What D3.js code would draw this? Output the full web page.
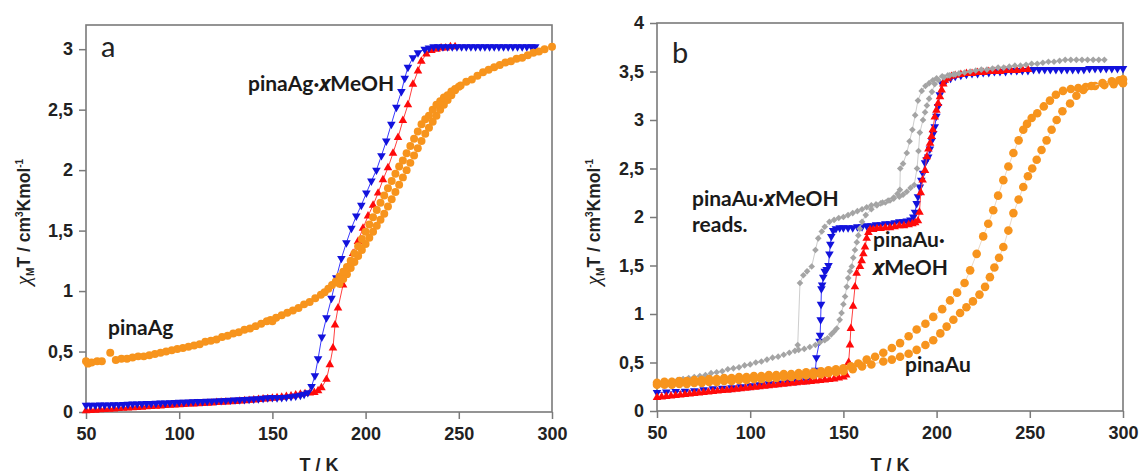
<!DOCTYPE html>
<html>
<head>
<meta charset="utf-8">
<script src="https://cdn.jsdelivr.net/npm/d3@7"></script>
<style>
body{margin:0;background:#fff;}
svg{display:block;font-family:"Liberation Sans",Arial,sans-serif;}
</style>
</head>
<body>
<svg id="chart" width="1141" height="475"></svg>
<script>
// axis ticks
const xTicks = [50,100,150,200,250,300];
const yTicksA = [0,0.5,1,1.5,2,2.5,3];
const yTicksB = [0,0.5,1,1.5,2,2.5,3,3.5,4];

// panel a : pinaAg.xMeOH cooling (blue), heating (red)
const agSolvCool = [[50,0.055],[52.5,0.055],[55,0.056],[57.5,0.057],[60,0.058],[62.5,0.059],[65,0.06],[67.5,0.061],[70,0.062],[72.5,0.064],[75,0.066],[77.5,0.067],[80,0.068],[82.5,0.07],[85,0.071],[87.5,0.072],[90,0.074],[92.5,0.075],[95,0.077],[97.5,0.078],[100,0.08],[102.5,0.081],[105,0.083],[107.5,0.084],[110,0.086],[112.5,0.087],[115,0.089],[117.5,0.09],[120,0.092],[122.5,0.094],[125,0.096],[127.5,0.098],[130,0.1],[132.5,0.102],[135,0.104],[137.5,0.106],[140,0.108],[142.5,0.11],[145,0.113],[147.5,0.118],[150,0.12],[152.5,0.118],[155,0.12],[157.5,0.123],[160,0.127],[162.5,0.132],[165,0.138],[167,0.146],[169,0.16],[171,0.21],[172.8,0.3],[174.5,0.44],[176.5,0.62],[179,0.78],[181.7,0.94],[184.3,1.11],[187,1.27],[189.7,1.4],[192.4,1.52],[195,1.62],[197.7,1.71],[200.4,1.81],[203.1,1.91],[205.8,2.0],[208.5,2.12],[211.1,2.24],[213.8,2.38],[216.5,2.52],[219.2,2.65],[221,2.76],[222.7,2.85],[225.4,2.93],[228.1,2.97],[231.7,3.0],[234,3.01],[236.5,3.02],[239,3.02],[241.5,3.02],[244,3.02],[246.5,3.02],[249,3.02],[251.5,3.02],[254,3.02],[256.5,3.02],[259,3.02],[261.5,3.02],[264,3.02],[266.5,3.02],[269,3.02],[271.5,3.02],[274,3.02],[276.5,3.02],[279,3.02],[281.5,3.02],[284,3.02],[286.5,3.02],[289,3.02],[291,3.02]];
const agSolvHeat = [[50,0.01],[52.5,0.012],[55,0.015],[57.5,0.018],[60,0.02],[62.5,0.022],[65,0.025],[67.5,0.028],[70,0.03],[72.5,0.033],[75,0.036],[77.5,0.038],[80,0.04],[82.5,0.043],[85,0.046],[87.5,0.048],[90,0.05],[92.5,0.053],[95,0.056],[97.5,0.058],[100,0.06],[102.5,0.062],[105,0.065],[107.5,0.067],[110,0.068],[112.5,0.07],[115,0.072],[117.5,0.075],[120,0.078],[122.5,0.08],[125,0.082],[127.5,0.084],[130,0.086],[132.5,0.09],[135,0.093],[137.5,0.096],[140,0.1],[142.5,0.103],[145,0.107],[147.5,0.11],[150,0.114],[152.5,0.118],[155,0.122],[157.5,0.128],[160,0.133],[162.5,0.14],[165,0.147],[167.5,0.152],[170,0.156],[172.5,0.162],[174.5,0.175],[176.3,0.2],[179,0.27],[180.8,0.39],[182.5,0.53],[183.6,0.72],[185.2,0.86],[187.9,1.05],[190.6,1.2],[193.3,1.31],[195.9,1.41],[198.6,1.52],[201.3,1.62],[204,1.71],[206.7,1.81],[209.3,1.92],[212,2.02],[214.7,2.14],[217.4,2.27],[220,2.41],[222.7,2.54],[225.4,2.71],[228.1,2.82],[229.9,2.9],[232.6,2.96],[235.3,2.99],[238,3.0],[240.5,3.01],[243,3.01],[245.5,3.02],[248,3.02]];
// panel a : pinaAg, two runs
const agDryA = [[50,0.42],[51,0.4],[53,0.41],[56,0.42],[58.5,0.42],[63,0.49],[66,0.43],[69,0.44],[72,0.44],[75,0.45],[78,0.46],[81,0.46],[84,0.47],[87,0.48],[90,0.49],[93,0.5],[96,0.51],[99,0.52],[102,0.53],[105,0.54],[108,0.55],[111,0.56],[114,0.58],[117,0.59],[120,0.6],[123,0.62],[126,0.63],[129,0.65],[132,0.66],[135,0.68],[138,0.69],[141,0.71],[144,0.73],[147,0.75],[149,0.76],[150,0.75],[152,0.78],[155,0.8],[158,0.82],[161,0.84],[164,0.86],[167,0.89],[170,0.91],[173,0.94],[176,0.97],[178,0.99],[180,1.02],[182,1.05],[184,1.08],[186,1.12],[188,1.16],[190,1.2],[192,1.25],[194,1.31],[196,1.37],[198,1.43],[200,1.49],[202,1.55],[204,1.61],[206,1.67],[208,1.73],[210,1.79],[212,1.85],[214,1.91],[216,1.97],[218,2.03],[220,2.08],[222,2.14],[224,2.2],[226,2.26],[228,2.32],[230,2.38],[232,2.42],[234,2.45],[236,2.5],[238,2.54],[240,2.57],[242,2.6],[244,2.62],[246,2.65],[248,2.67],[251,2.7],[254,2.73],[257,2.75],[260,2.78],[263,2.81],[266,2.83],[269,2.85],[272,2.87],[275,2.89],[278,2.9],[281,2.92],[284,2.93],[287,2.95],[290,2.97],[293,2.98],[296,3.0],[300,3.02]];
const agDryB = [[186,1.06],[188,1.1],[190,1.14],[192,1.19],[194,1.24],[196,1.29],[198,1.34],[200,1.39],[202,1.44],[204,1.49],[206,1.54],[208,1.59],[210,1.64],[212,1.7],[214,1.76],[216,1.82],[218,1.88],[220,1.94],[222,2.0],[224,2.06],[226,2.12],[228,2.18],[230,2.24],[232,2.3],[234,2.35],[236,2.4],[238,2.45],[240,2.5],[242,2.54],[244,2.58],[246,2.62],[248,2.66],[250,2.69]];

// panel b : pinaAu.xMeOH cooling (blue), heating (red)
const auSolvCool = [[300,3.53],[297,3.53],[294,3.53],[291,3.53],[288,3.53],[285,3.53],[282,3.53],[279,3.52],[276,3.52],[273,3.52],[270,3.52],[267,3.52],[264,3.52],[261,3.52],[258,3.52],[255,3.52],[252,3.52],[249,3.51],[246,3.51],[243,3.51],[240,3.51],[237,3.5],[234,3.5],[231,3.5],[228,3.49],[225,3.49],[222,3.48],[219,3.48],[216,3.47],[213,3.46],[210,3.45],[207.5,3.43],[205,3.41],[202.7,3.38],[201.7,3.26],[200.8,3.14],[199.9,3.04],[199,2.93],[198.2,2.86],[197.4,2.79],[196.4,2.7],[195.5,2.62],[194.6,2.59],[193.8,2.56],[192.7,2.45],[191.8,2.38],[191,2.31],[190,2.21],[189.3,2.14],[188.4,2.05],[187.5,2.0],[186,1.97],[184,1.96],[182,1.95],[180,1.95],[177.5,1.94],[175,1.93],[172.5,1.93],[170,1.92],[167.5,1.92],[165,1.91],[162.5,1.91],[160,1.9],[157.5,1.9],[155,1.89],[152.5,1.89],[150,1.89],[148,1.89],[146,1.88],[144.5,1.86],[143.5,1.8],[143,1.72],[142.5,1.62],[142,1.5],[141,1.46],[140,1.44],[139.2,1.38],[138.6,1.3],[138.2,1.26],[138,1.1],[137.8,0.94],[137.5,0.78],[137.2,0.72],[135.5,0.55],[135,0.42],[134.5,0.35],[130,0.32],[125,0.31],[120,0.3],[115,0.29],[110,0.28],[105,0.27],[100,0.26],[95,0.25],[90,0.24],[85,0.235],[80,0.23],[75,0.22],[70,0.21],[65,0.205],[60,0.2],[55,0.195],[50,0.19]];
const auSolvHeat = [[50,0.14],[52.5,0.145],[55,0.15],[57.5,0.155],[60,0.16],[62.5,0.165],[65,0.17],[67.5,0.175],[70,0.18],[72.5,0.185],[75,0.19],[77.5,0.195],[80,0.2],[82.5,0.205],[85,0.21],[87.5,0.215],[90,0.22],[92.5,0.225],[95,0.23],[97.5,0.235],[100,0.24],[102.5,0.245],[105,0.25],[107.5,0.255],[110,0.26],[112.5,0.265],[115,0.27],[117.5,0.275],[120,0.28],[122.5,0.285],[125,0.29],[127.5,0.295],[130,0.3],[132.5,0.305],[135,0.31],[137.5,0.315],[140,0.32],[142.5,0.325],[145,0.33],[147.5,0.34],[150,0.35],[151.5,0.37],[152.8,0.5],[153.5,0.68],[154,0.85],[155.2,1.08],[156.2,1.28],[157.1,1.42],[158.9,1.49],[159.8,1.55],[160.7,1.62],[161.6,1.69],[162.5,1.78],[163.4,1.84],[164.3,1.87],[166,1.87],[168,1.88],[170,1.88],[172.5,1.89],[175,1.89],[177.5,1.9],[180,1.91],[182.5,1.91],[185,1.92],[187,1.93],[188.5,1.94],[190,1.96],[190.8,2.05],[191.5,2.25],[192.5,2.38],[193.8,2.48],[194.7,2.62],[195.6,2.7],[196.5,2.76],[197.3,2.83],[198,2.9],[199,3.03],[199.9,3.1],[200.8,3.17],[201.8,3.24],[202.7,3.31],[203.6,3.37],[204.5,3.41],[206,3.43],[208,3.45],[210,3.46],[213,3.47],[216,3.48],[219,3.48],[222,3.49],[225,3.49],[228,3.5],[231,3.5],[234,3.5],[237,3.51],[240,3.51],[243,3.51],[246,3.52],[249,3.52]];
// panel b : pinaAu.xMeOH reads. (grey)
const auReadsCool = [[290,3.62],[287,3.62],[284,3.62],[281,3.62],[278,3.62],[275,3.62],[272,3.62],[269,3.62],[266,3.61],[263,3.6],[260,3.6],[257,3.59],[254,3.58],[251,3.58],[248,3.57],[245,3.56],[242,3.56],[239,3.55],[236,3.54],[233,3.54],[230,3.53],[227,3.52],[224,3.52],[221,3.51],[218,3.5],[215,3.49],[212,3.48],[209,3.47],[206,3.46],[203,3.45],[200,3.43],[198,3.41],[196,3.38],[194,3.35],[192,3.3],[190,3.2],[188.5,3.05],[187,2.9],[185.5,2.78],[184,2.66],[182,2.55],[180.5,2.5],[180.3,2.28],[179,2.24],[177,2.2],[175,2.17],[172.5,2.15],[170,2.14],[167.5,2.13],[165,2.12],[162.5,2.1],[160,2.08],[157.5,2.06],[155,2.04],[152.5,2.02],[150,2.0],[147.5,1.99],[145,1.97],[142.5,1.95],[140,1.9],[138.4,1.85],[136.5,1.78],[135,1.66],[133,1.49],[130.5,1.44],[128.5,1.4],[126.7,1.32],[125.5,0.68],[124,0.62],[121,0.6],[118,0.58],[115,0.56],[112,0.55],[109,0.53],[106,0.51],[103,0.5],[100,0.48],[97,0.47],[94,0.45],[91,0.44],[88,0.43],[85,0.41],[82,0.4],[79,0.39],[76,0.37],[73,0.36],[70,0.35],[67,0.34],[64,0.33],[61,0.32],[58,0.31],[55,0.29],[52,0.28],[50,0.27]];
const auReadsHeat = [[126,0.63],[129,0.64],[132,0.66],[135,0.68],[137.5,0.71],[140,0.73],[141.5,0.75],[143.5,0.79],[145,0.82],[146.4,0.85],[148,0.94],[149,1.01],[150,1.1],[150.9,1.18],[151.8,1.28],[152.6,1.37],[153.5,1.44],[154.5,1.49],[155.3,1.58],[156.2,1.66],[157.2,1.74],[158,1.81],[158.8,1.88],[160,1.95],[162,2.02],[165,2.08],[168,2.12],[171,2.15],[174,2.17],[177,2.19],[180,2.21],[182,2.23],[184,2.26],[186,2.3],[188,2.33],[189.5,2.5],[190.3,2.68],[191,2.87],[192.7,3.0],[193.8,3.08],[194.8,3.15],[196,3.22],[197.5,3.29],[199,3.37],[201,3.41],[204,3.44],[207,3.46],[210,3.47]];
// panel b : pinaAu, cooling and heating
const auDryCool = [[300,3.38],[295,3.37],[290,3.36],[285,3.35],[280,3.34],[276,3.33],[272,3.32],[267.8,3.3],[264,3.26],[260.8,3.2],[257.5,3.14],[254,3.07],[251,3.02],[248.5,2.96],[246.5,2.9],[244,2.79],[241.2,2.66],[238.5,2.52],[235.8,2.38],[233,2.22],[230.4,2.07],[227.7,1.93],[225,1.8],[221.5,1.62],[218,1.45],[215,1.32],[211,1.22],[207.2,1.14],[203,1.05],[198.2,0.97],[194,0.9],[189.3,0.84],[185,0.77],[180.4,0.7],[176,0.65],[171.4,0.6],[167,0.56],[162.5,0.53],[158,0.49],[154,0.46],[150,0.44],[146,0.43],[142,0.42],[138,0.41],[134,0.4],[130,0.4],[126,0.39],[122,0.38],[118,0.38],[114,0.37],[110,0.37],[106,0.36],[102,0.36],[98,0.35],[94,0.35],[90,0.34],[86,0.34],[82,0.33],[78,0.33],[74,0.32],[70,0.32],[66,0.31],[62,0.31],[58,0.3],[54,0.3],[50,0.29]];
const auDryHeat = [[50,0.27],[54,0.27],[58,0.27],[62,0.28],[66,0.28],[70,0.29],[74,0.29],[78,0.3],[82,0.3],[86,0.31],[90,0.31],[94,0.32],[98,0.32],[102,0.33],[106,0.33],[110,0.34],[114,0.34],[118,0.35],[122,0.35],[126,0.36],[130,0.37],[134,0.37],[138,0.38],[142,0.39],[146,0.4],[150,0.41],[155,0.43],[160,0.46],[165,0.48],[171.4,0.51],[176,0.53],[180.4,0.56],[185,0.59],[189.3,0.63],[194,0.68],[198.2,0.73],[202,0.8],[205.4,0.87],[209,0.94],[212.6,1.01],[216,1.07],[219.5,1.13],[223,1.2],[226,1.28],[228.6,1.38],[231,1.48],[233.5,1.58],[235.8,1.69],[238.5,1.86],[241.2,2.04],[244,2.18],[246.5,2.31],[249,2.42],[251.3,2.5],[253.7,2.59],[256.3,2.69],[259,2.79],[261.7,2.9],[264.4,3.0],[267.5,3.09],[271.6,3.17],[275,3.25],[278.7,3.31],[283,3.35],[289,3.38],[294,3.4],[298,3.41],[300,3.42]];

const svg = d3.select("#chart");
const commaFmt = v => String(v).replace(".", ",");

const blue = "#1212dc", red = "#ff0a0a", orange = "#f7941d", grey = "#a4a4a4";

function drawPanel(p){
    const x = d3.scaleLinear().domain([50,300]).range([p.left,p.right]);
    const y = d3.scaleLinear().domain([0,p.yMax]).range([p.bottom,p.top]);
    const g = svg.append("g");

    const xAxis = g.append("g")
        .attr("transform","translate(0,"+p.bottom+")")
        .call(d3.axisBottom(x).tickValues(xTicks).tickSize(7).tickSizeOuter(0).tickPadding(8).tickFormat(d3.format("d")));
    const yAxis = g.append("g")
        .attr("transform","translate("+p.left+",0)")
        .call(d3.axisLeft(y).tickValues(p.yTicks).tickSize(7).tickSizeOuter(0).tickPadding(6).tickFormat(commaFmt));
    [xAxis,yAxis].forEach(a => {
        a.select(".domain").remove();
        a.selectAll("line").attr("stroke","#7a7a7a").attr("stroke-width",1.5);
        a.selectAll("text").attr("fill","#222").attr("font-size",18).attr("font-weight","bold")
            .attr("font-family","'Liberation Sans',Arial,sans-serif");
    });

    // frame
    g.append("rect")
        .attr("x",p.left).attr("y",p.top)
        .attr("width",p.right-p.left).attr("height",p.bottom-p.top)
        .attr("fill","none").attr("stroke","#7a7a7a").attr("stroke-width",1.6);

    // series
    p.series.forEach(s => {
        if (s.line){
            g.append("path")
                .datum(s.data)
                .attr("d", d3.line().x(d => x(d[0])).y(d => y(d[1])))
                .attr("fill","none")
                .attr("stroke", s.line)
                .attr("stroke-width", 1);
        }
        const sym = d3.symbol().type(s.shape).size(s.size);
        g.append("g").selectAll("path")
            .data(s.data)
            .enter()
            .append("path")
            .attr("d", sym)
            .attr("transform", d => "translate("+x(d[0])+","+y(d[1])+") rotate("+(s.rot||0)+")")
            .attr("fill", s.color);
    });

    // axis titles
    g.append("text")
        .attr("x",(p.left+p.right)/2).attr("y",471)
        .attr("text-anchor","middle")
        .attr("font-size",18).attr("font-weight","bold").attr("fill","#222")
        .text("T / K");

    const yl = g.append("text")
        .attr("transform","translate("+p.ylx+",222) rotate(-90)")
        .attr("text-anchor","middle")
        .attr("font-size",17.5).attr("font-weight","bold").attr("fill","#222");
    yl.append("tspan").attr("font-family","'Liberation Serif',serif").attr("font-style","italic").attr("font-weight","normal").attr("font-size",21).text("χ");
    yl.append("tspan").attr("font-size",10).attr("dy",4).text("M");
    yl.append("tspan").attr("dy",-4).text("T / cm");
    yl.append("tspan").attr("font-size",10).attr("dy",-7).text("3");
    yl.append("tspan").attr("dy",7).text("Kmol");
    yl.append("tspan").attr("font-size",10).attr("dy",-7).text("-1");

    // panel letter
    g.append("text")
        .attr("x",p.letterX).attr("y",p.letterY)
        .attr("font-family","Lato,'Open Sans',sans-serif")
        .attr("font-size",29).attr("fill","#222")
        .text(p.letter);

    // annotations
    p.notes.forEach(n => {
        const t = g.append("text")
            .attr("x",n.x).attr("y",n.y)
            .attr("font-family","Lato,'Open Sans',sans-serif")
            .attr("font-size",21).attr("font-weight","bold").attr("fill","#1a1a1a");
        n.parts.forEach(part => {
            const ts = t.append("tspan").text(part[0]);
            if (part[1]) ts.attr("font-family","'Open Sans','Liberation Sans',sans-serif").attr("font-style","italic");
        });
    });
}

drawPanel({
    left:86, right:552, top:25, bottom:412, yMax:3.2, yTicks:yTicksA, ylx:30,
    letter:"a", letterX:101, letterY:57,
    series:[
        {data:agSolvHeat, shape:d3.symbolTriangle, size:32, color:red, line:"#ff4040"},
        {data:agSolvCool, shape:d3.symbolTriangle, size:32, rot:180, color:blue, line:"#3a3aff"},
        {data:agDryB, shape:d3.symbolCircle, size:50, color:orange},
        {data:agDryA, shape:d3.symbolCircle, size:50, color:orange}
    ],
    notes:[
        {x:248, y:91, parts:[["pinaAg·",false],["x",true],["MeOH",false]]},
        {x:108, y:335, parts:[["pinaAg",false]]}
    ]
});

drawPanel({
    left:657, right:1123, top:23, bottom:411, yMax:4, yTicks:yTicksB, ylx:600,
    letter:"b", letterX:672, letterY:63,
    series:[
        {data:auSolvCool, shape:d3.symbolTriangle, size:32, rot:180, color:blue, line:"#3a3aff"},
        {data:auSolvHeat, shape:d3.symbolTriangle, size:32, color:red, line:"#ff4040"},
        {data:auReadsCool, shape:d3.symbolSquare, size:22, rot:45, color:grey, line:"#cdcdcd"},
        {data:auReadsHeat, shape:d3.symbolSquare, size:22, rot:45, color:grey, line:"#cdcdcd"},
        {data:auDryCool, shape:d3.symbolCircle, size:58, color:orange, line:"#ecd9c6"},
        {data:auDryHeat, shape:d3.symbolCircle, size:58, color:orange, line:"#ecd9c6"}
    ],
    notes:[
        {x:692, y:206, parts:[["pinaAu·",false],["x",true],["MeOH",false]]},
        {x:692, y:232, parts:[["reads.",false]]},
        {x:873, y:247, parts:[["pinaAu·",false]]},
        {x:873, y:275, parts:[["x",true],["MeOH",false]]},
        {x:905, y:372, parts:[["pinaAu",false]]}
    ]
});
</script>
</body>
</html>
